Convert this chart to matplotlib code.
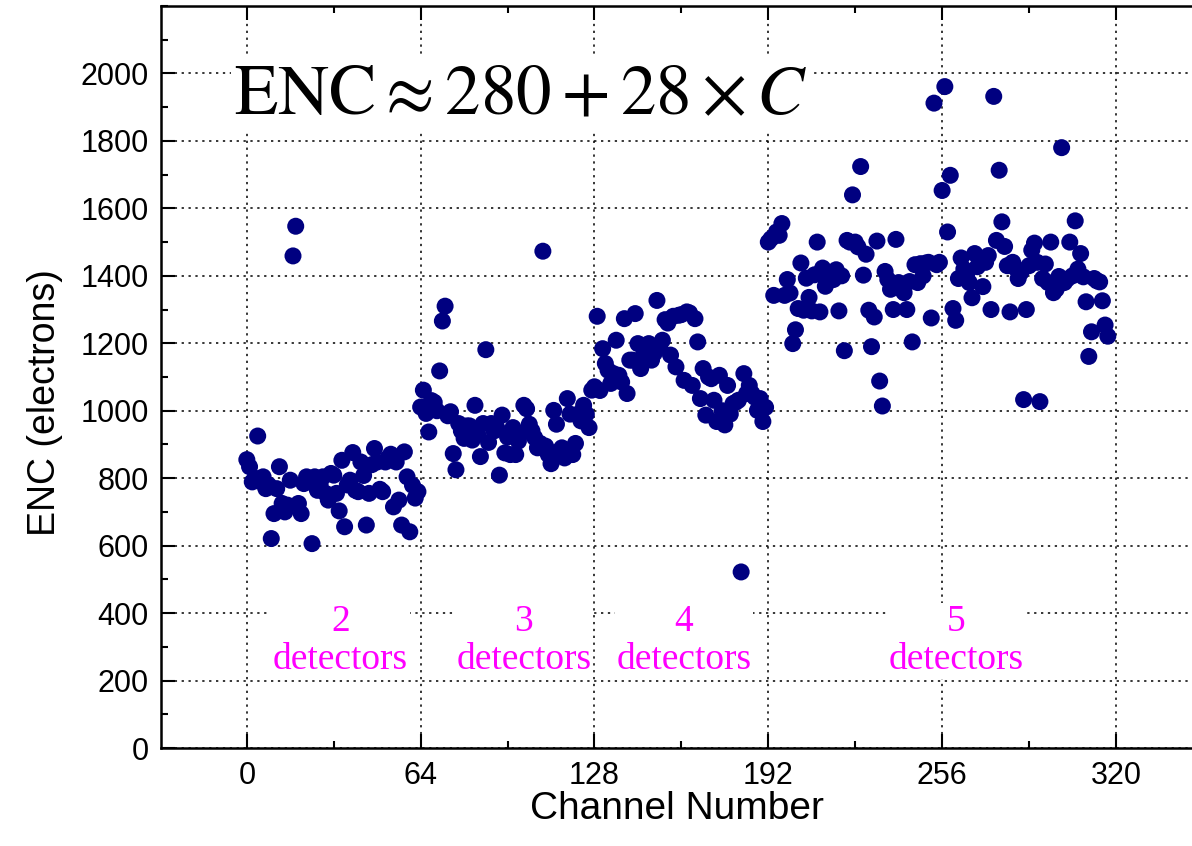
import matplotlib
matplotlib.use("Agg")
import matplotlib.pyplot as plt
import numpy as np
from matplotlib.ticker import MultipleLocator

# ENC per channel (channels 0..318)
enc_2det = [855, 834, 789, 800, 925, 790, 804, 769, 780, 621, 695, 769, 834, 725, 700, 720,
            794, 1459, 1547, 725, 695, 784, 804, 790, 606, 804, 764, 780, 804, 755, 735, 814,
            809, 755, 703, 853, 656, 780, 794, 876, 764, 760, 848, 808, 661, 755, 840, 888,
            848, 767, 760, 848, 860, 871, 715, 848, 735, 661, 878, 804, 641, 779, 741, 760]
enc_3det = [1011, 1061, 992, 937, 1030, 1025, 1000, 1118, 1266, 1310, 985, 997, 873, 825, 962, 940,
            918, 955, 955, 913, 1016, 930, 864, 962, 1181, 906, 962, 940, 950, 809, 987, 875,
            922, 870, 950, 870, 910, 933, 1016, 1006, 960, 940, 920, 890, 903, 1473, 895, 870,
            843, 1001, 960, 880, 890, 860, 1036, 990, 870, 903, 990, 970, 1016, 990, 950, 1061]
enc_4det = [1071, 1280, 1060, 1184, 1140, 1120, 1081, 1110, 1209, 1105, 1085, 1273, 1051, 1150, 1150, 1288,
            1199, 1125, 1165, 1180, 1199, 1150, 1170, 1327, 1190, 1209, 1270, 1260, 1165, 1280, 1130, 1283,
            1285, 1090, 1293, 1290, 1075, 1273, 1204, 1036, 1125, 987, 1100, 1095, 1031, 968, 1105, 1000,
            958, 1075, 990, 1021, 1025, 1031, 522, 1110, 1051, 1075, 1051, 1040, 1001, 1036, 968, 1010]
enc_5det_a = [1500, 1510, 1342, 1530, 1520, 1555, 1342, 1389, 1349, 1199, 1240, 1303, 1438, 1298, 1393, 1336,
              1296, 1403, 1500, 1293, 1423, 1369, 1389, 1410, 1389, 1418, 1296, 1400, 1178, 1505, 1500, 1640,
              1500, 1486, 1724, 1402, 1464, 1298, 1190, 1278, 1503, 1088, 1014, 1413, 1389, 1360, 1300, 1508,
              1380, 1360, 1350, 1300, 1383, 1204, 1433, 1380, 1436, 1400, 1438, 1440, 1275, 1912, 1433, 1440]
enc_5det_b = [1653, 1961, 1530, 1698, 1303, 1268, 1392, 1453, 1420, 1400, 1380, 1335, 1466, 1427, 1450, 1368,
              1440, 1460, 1300, 1932, 1505, 1713, 1560, 1487, 1430, 1293, 1440, 1423, 1392, 1410, 1033, 1300,
              1430, 1476, 1497, 1440, 1027, 1392, 1435, 1380, 1500, 1350, 1360, 1398, 1780, 1380, 1390, 1500,
              1400, 1563, 1420, 1466, 1397, 1323, 1161, 1234, 1392, 1385, 1382, 1326, 1254, 1221]

enc = enc_2det + enc_3det + enc_4det + enc_5det_a + enc_5det_b
channels = np.arange(len(enc))

group_labels = ["2\ndetectors", "3\ndetectors", "4\ndetectors", "5\ndetectors"]
group_centres = [34.5, 102, 161, 261]

fig = plt.figure(figsize=(11.92, 8.46), dpi=100)
ax = fig.add_axes([161 / 1192, 98 / 846, 1 - 161 / 1192, 742 / 846])

ax.grid(True, color="black", linestyle=(0, (1.5, 3)), linewidth=1.1)
ax.set_axisbelow(True)
ax.scatter(channels, enc, s=150, color="#000080", edgecolors="none", zorder=3)

ax.set_xlim(-31.6, 348)
ax.set_ylim(0, 2200)
ax.set_xticks([0, 64, 128, 192, 256, 320])
ax.xaxis.set_minor_locator(MultipleLocator(32))
ax.set_yticks(np.arange(0, 2001, 200))
ax.yaxis.set_minor_locator(MultipleLocator(100))
ax.tick_params(which="both", direction="in", top=True, right=False, width=1.5,
               labelsize=22, pad=9)
ax.tick_params(which="major", length=10)
ax.tick_params(which="minor", length=5)
for lab in ax.get_xticklabels() + ax.get_yticklabels():
    lab.set_family("Liberation Sans")
ax.spines["right"].set_visible(False)
for s in ["left", "bottom", "top"]:
    ax.spines[s].set_linewidth(1.8)

ax.set_xlabel("Channel Number", fontsize=28, family="Liberation Sans", labelpad=0)
ax.set_ylabel("ENC (electrons)", fontsize=27, family="Liberation Sans")
ax.yaxis.set_label_coords(-0.095, 0.465)

plt.rcParams["mathtext.fontset"] = "stix"
ax.text(-4.8, 1880, r"$\mathrm{ENC}\approx 280+28\times C$", fontsize=51,
        ha="left", va="baseline",
        bbox=dict(facecolor="white", edgecolor="none", pad=2), zorder=4)

for cx, lab in zip(group_centres, group_labels):
    ax.text(cx, 317, lab, fontsize=27, color="#ff00ff", family="Liberation Serif",
            ha="center", va="center", linespacing=1.12,
            bbox=dict(facecolor="white", edgecolor="none", pad=1), zorder=4)

fig.savefig("out.png", dpi=100)
